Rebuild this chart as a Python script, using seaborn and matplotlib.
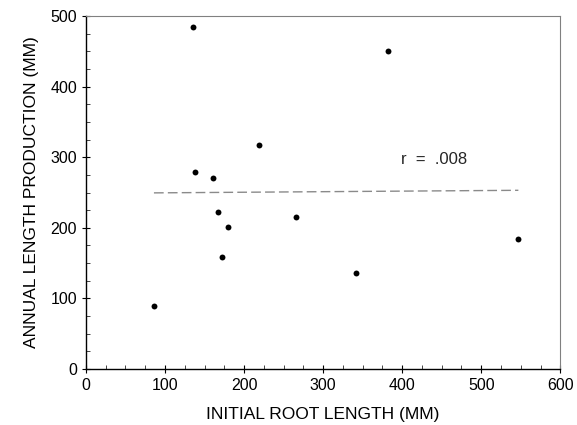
import matplotlib
matplotlib.use("Agg")
import matplotlib.pyplot as plt
import seaborn as sns
import pandas as pd
from matplotlib.ticker import MultipleLocator

initial_root_length = [136, 138, 161, 167, 172, 180, 219, 266, 342, 382, 547, 86]
annual_production = [484, 279, 270, 223, 158, 201, 317, 216, 136, 451, 184, 89]

df = pd.DataFrame({"x": initial_root_length, "y": annual_production})

sns.set_style("ticks")
plt.rcParams["font.family"] = ["Liberation Sans", "DejaVu Sans"]

fig = plt.figure(figsize=(5.77, 4.25), dpi=100)
ax = fig.add_axes([0.149, 0.132, 0.822, 0.830])

sns.regplot(data=df, x="x", y="y", ax=ax, ci=None,
            scatter_kws=dict(s=18, color="black", linewidths=0, alpha=1, marker="s"),
            line_kws=dict(color="#8a8a8a", lw=1.0, ls=(0, (7, 3))))

ax.set_xlim(0, 600)
ax.set_ylim(0, 500)
ax.xaxis.set_major_locator(MultipleLocator(100))
ax.xaxis.set_minor_locator(MultipleLocator(25))
ax.yaxis.set_major_locator(MultipleLocator(100))
ax.yaxis.set_minor_locator(MultipleLocator(25))
ax.tick_params(which="major", direction="inout", length=6, width=0.8, labelsize=11.5, colors="black")
ax.tick_params(which="minor", direction="in", length=3, width=0.6)

for s in ["top", "right"]:
    ax.spines[s].set_visible(True)
    ax.spines[s].set_color("#808080")
for s in ["left", "bottom"]:
    ax.spines[s].set_color("black")
    ax.spines[s].set_linewidth(1.0)

ax.set_xlabel("INITIAL ROOT LENGTH (MM)", fontsize=12.5, labelpad=10, color="black")
ax.set_ylabel("ANNUAL LENGTH PRODUCTION (MM)", fontsize=12.5, labelpad=8, color="black")

ax.text(398, 297, "r  =  .008", fontsize=12, va="center", ha="left")

fig.savefig("out.png", dpi=100)
